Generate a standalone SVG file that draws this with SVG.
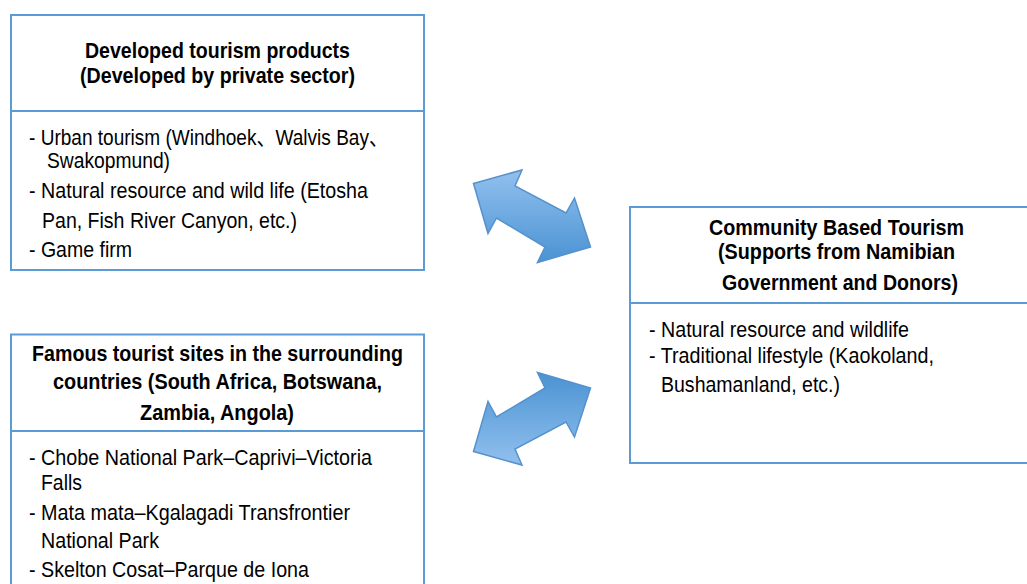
<svg xmlns="http://www.w3.org/2000/svg" width="1027" height="584" viewBox="0 0 1027 584">
  <defs>
    <linearGradient id="arrowFill" x1="0" y1="0" x2="0" y2="1">
      <stop offset="0" stop-color="#92C0EE"/>
      <stop offset="1" stop-color="#4A93D3"/>
    </linearGradient>
    <!-- diagonal double-headed block arrow -->
    <polygon id="dblArrow" points="473.5,183.5 522,170 515,186 566,213 574.5,198 590.5,247 537.5,262.5 545,247 496.5,218 488,233.5"/>
  </defs>
  <style>
    .box { fill: #FFFFFF; stroke: #5B9BD5; stroke-width: 2; }
    .rule { stroke: #5B9BD5; stroke-width: 2; }
    .title { font-family: "Liberation Sans", Arial, "Noto Sans CJK JP", sans-serif; font-weight: bold; font-size: 21.5px; fill: #000000; text-anchor: middle; }
    .body { font-family: "Liberation Sans", Arial, "Noto Sans CJK JP", sans-serif; font-size: 22px; fill: #000000; }
    .arrow { fill: url(#arrowFill); stroke: #5591CC; stroke-width: 1.5; stroke-linejoin: miter; }
  </style>
  <rect width="1027" height="584" fill="#FFFFFF"/>

  <g id="developed-products">
    <rect class="box" x="11" y="15" width="413" height="255"/>
    <line class="rule" x1="11" y1="111" x2="424" y2="111"/>
    <text class="title" x="217.5" y="58" textLength="265" lengthAdjust="spacingAndGlyphs">Developed tourism products</text>
    <text class="title" x="217.5" y="83" textLength="275" lengthAdjust="spacingAndGlyphs">(Developed by private sector)</text>
    <text class="body" x="29" y="145" textLength="359" lengthAdjust="spacingAndGlyphs">- Urban tourism (Windhoek、Walvis Bay、</text>
    <text class="body" x="47" y="168" textLength="123" lengthAdjust="spacingAndGlyphs">Swakopmund)</text>
    <text class="body" x="29" y="198" textLength="339" lengthAdjust="spacingAndGlyphs">- Natural resource and wild life (Etosha</text>
    <text class="body" x="42" y="228" textLength="255" lengthAdjust="spacingAndGlyphs">Pan, Fish River Canyon, etc.)</text>
    <text class="body" x="29" y="257" textLength="103" lengthAdjust="spacingAndGlyphs">- Game firm</text>
  </g>

  <g id="surrounding-sites">
    <rect class="box" x="11" y="334.5" width="413" height="260"/>
    <line class="rule" x1="11" y1="431" x2="424" y2="431"/>
    <text class="title" x="217.5" y="361" textLength="371" lengthAdjust="spacingAndGlyphs">Famous tourist sites in the surrounding</text>
    <text class="title" x="217.5" y="389" textLength="329" lengthAdjust="spacingAndGlyphs">countries (South Africa, Botswana,</text>
    <text class="title" x="217" y="420" textLength="154" lengthAdjust="spacingAndGlyphs">Zambia, Angola)</text>
    <text class="body" x="29" y="465" textLength="343" lengthAdjust="spacingAndGlyphs">- Chobe National Park–Caprivi–Victoria</text>
    <text class="body" x="41" y="490" textLength="41" lengthAdjust="spacingAndGlyphs">Falls</text>
    <text class="body" x="29" y="520" textLength="321" lengthAdjust="spacingAndGlyphs">- Mata mata–Kgalagadi Transfrontier</text>
    <text class="body" x="41" y="548" textLength="118" lengthAdjust="spacingAndGlyphs">National Park</text>
    <text class="body" x="29" y="577" textLength="280" lengthAdjust="spacingAndGlyphs">- Skelton Cosat–Parque de Iona</text>
  </g>

  <g id="community-tourism">
    <rect class="box" x="630" y="207" width="420" height="256"/>
    <line class="rule" x1="630" y1="303" x2="1050" y2="303"/>
    <text class="title" x="836.5" y="235" textLength="255" lengthAdjust="spacingAndGlyphs">Community Based Tourism</text>
    <text class="title" x="836.5" y="259" textLength="237" lengthAdjust="spacingAndGlyphs">(Supports from Namibian</text>
    <text class="title" x="840" y="290" textLength="236" lengthAdjust="spacingAndGlyphs">Government and Donors)</text>
    <text class="body" x="649" y="337" textLength="260" lengthAdjust="spacingAndGlyphs">- Natural resource and wildlife</text>
    <text class="body" x="649" y="363" textLength="285" lengthAdjust="spacingAndGlyphs">- Traditional lifestyle (Kaokoland,</text>
    <text class="body" x="661" y="392" textLength="179" lengthAdjust="spacingAndGlyphs">Bushamanland, etc.)</text>
  </g>

  <g id="connectors">
    <use href="#dblArrow" class="arrow"/>
    <use href="#dblArrow" class="arrow" transform="translate(0,635) scale(1,-1)"/>
  </g>
</svg>
